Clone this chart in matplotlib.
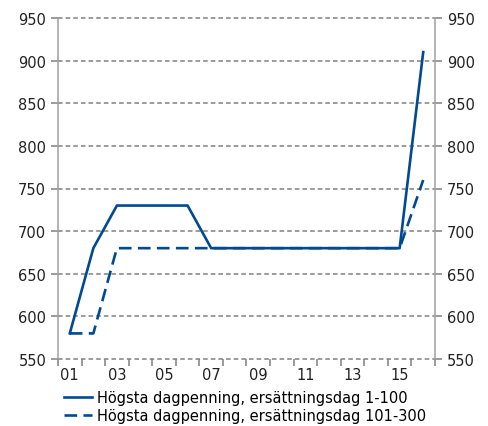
import matplotlib
matplotlib.use('Agg')
import matplotlib.pyplot as plt

# years 2001-2016, max daily allowance (kr)
years = ['01', '02', '03', '04', '05', '06', '07', '08',
         '09', '10', '11', '12', '13', '14', '15', '16']
dag_1_100 = [580, 680, 730, 730, 730, 730, 680, 680,
             680, 680, 680, 680, 680, 680, 680, 910]
dag_101_300 = [580, 580, 680, 680, 680, 680, 680, 680,
               680, 680, 680, 680, 680, 680, 680, 760]
labels = ['Högsta dagpenning, ersättningsdag 1-100',
          'Högsta dagpenning, ersättningsdag 101-300']
yticks = [550, 600, 650, 700, 750, 800, 850, 900, 950]

blue = '#004a93'
grey = '#808080'
plt.rcParams['font.family'] = 'DejaVu Sans'
plt.rcParams['font.size'] = 10.5

fig = plt.figure(figsize=(4.89, 4.27), dpi=100)
ax = fig.add_axes([58/489, 67/427, 377/489, 341/427])

x = list(range(len(years)))
ax.plot(x, dag_1_100, color=blue, lw=1.9, label=labels[0])
ax.plot(x, dag_101_300, color=blue, lw=1.9, dashes=(4.8, 2.4), label=labels[1])

ax.set_xlim(-0.5, len(years) - 0.5)
ax.set_ylim(550, 950)

# horizontal dashed grid (incl. the bottom line)
for y in yticks:
    ax.axhline(y, color=grey, lw=1.1, dashes=(3, 2), zorder=0, clip_on=False)

ax.spines['top'].set_visible(False)
ax.spines['bottom'].set_visible(False)
for s in ['left', 'right']:
    ax.spines[s].set_color('#a0a0a0')
    ax.spines[s].set_linewidth(1.1)

# category ticks between years, labels on every other year
ax.set_xticks([i - 0.5 for i in range(len(years) + 1)])
ax.set_xticklabels([])
ax.set_xticks(x[::2], minor=True)
ax.set_xticklabels(years[::2], minor=True)
ax.tick_params(axis='x', which='major', length=5, color=grey, width=1.1)
ax.tick_params(axis='x', which='minor', length=0, pad=6, colors='#222222')

ax.set_yticks(yticks)
ax.tick_params(axis='y', which='both', left=True, right=True,
               labelleft=True, labelright=True, length=5, color=grey,
               width=1.1, colors='#222222')
ax.tick_params(axis='y', color=grey)

ax.legend(loc='upper left', bbox_to_anchor=(0.0, -0.075), frameon=False,
          handlelength=1.9, handletextpad=0.35, labelspacing=0.2,
          borderaxespad=0, fontsize=10.5)

fig.savefig('out.png', dpi=100)
